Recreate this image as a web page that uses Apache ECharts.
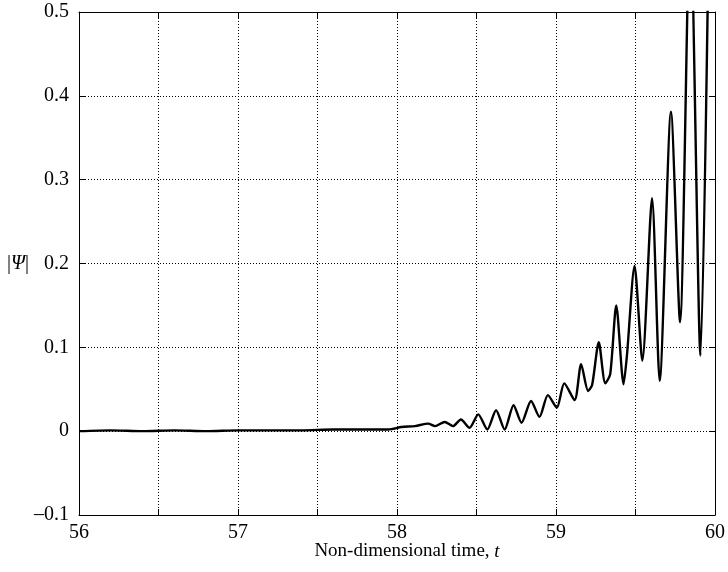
<!DOCTYPE html>
<html>
<head>
<meta charset="utf-8">
<script src="https://cdn.jsdelivr.net/npm/echarts@6/dist/echarts.min.js"></script>
<style>
  html, body { margin: 0; padding: 0; background: #fff; }
  #container { width: 728px; height: 572px; }
</style>
</head>
<body>
<div id="container"></div>
<script>
var chart = echarts.init(document.getElementById('container'));
var font = 'Liberation Serif';
var ink = '#000';

// non-dimensional time t
var tValues = [
    56.0, 56.2, 56.4, 56.6, 56.8, 57.0, 57.2, 57.4, 57.6, 57.8, 57.946,
    58.029, 58.113, 58.196, 58.239, 58.300, 58.352, 58.402, 58.456, 58.511, 58.568,
    58.623, 58.677, 58.733, 58.783, 58.843, 58.896, 58.949, 59.005, 59.052, 59.117,
    59.158, 59.202, 59.227, 59.269, 59.310, 59.341, 59.379, 59.425, 59.446, 59.494,
    59.543, 59.604, 59.652, 59.723, 59.780, 59.844, 59.908, 60.0
];
// |Psi|
var psiValues = [
    0.000, 0.001, 0.000, 0.001, 0.000, 0.001, 0.001, 0.001, 0.002, 0.002, 0.002,
    0.005, 0.006, 0.009, 0.006, 0.011, 0.006, 0.014, 0.004, 0.020, 0.002,
    0.025, 0.002, 0.031, 0.010, 0.036, 0.017, 0.043, 0.028, 0.057, 0.037,
    0.080, 0.048, 0.055, 0.106, 0.057, 0.068, 0.150, 0.056, 0.090, 0.197,
    0.084, 0.278, 0.060, 0.381, 0.130, 0.620, 0.090, 1.200
];

var lineData = tValues.map(function (t, i) {
    return [t, psiValues[i]];
});

var gridDots = { show: true, lineStyle: { color: ink, width: 1, type: [1, 2] } };
var tickIn = { show: true, inside: true, length: 6, lineStyle: { color: ink } };
var frame = { show: true, onZero: false, lineStyle: { color: ink, width: 1 } };

var option = {
    backgroundColor: '#fff',
    animation: false,
    grid: {
        left: 79,
        right: 9,
        top: 12,
        bottom: 57,
        containLabel: false
    },
    xAxis: [{
        type: 'value',
        min: 56,
        max: 60,
        interval: 0.5,
        axisLine: frame,
        axisTick: tickIn,
        splitLine: gridDots,
        axisLabel: {
            color: ink,
            fontFamily: font,
            fontSize: 20,
            margin: 8,
            formatter: function (v) {
                return Math.abs(v - Math.round(v)) < 1e-6 ? String(Math.round(v)) : '';
            }
        },
        name: 'Non-dimensional time, {i|t}',
        nameLocation: 'middle',
        nameGap: 27,
        nameMoveOverlap: false,
        nameTextStyle: {
            color: ink,
            fontFamily: font,
            fontSize: 19,
            padding: [0, 0, 0, 20],
            rich: {
                i: { fontFamily: font, fontSize: 19, fontStyle: 'italic', color: ink }
            }
        }
    }, {
        type: 'value',
        position: 'top',
        min: 56,
        max: 60,
        interval: 0.5,
        axisLine: frame,
        axisTick: tickIn,
        axisLabel: { show: false },
        splitLine: { show: false }
    }],
    yAxis: [{
        type: 'value',
        min: -0.1,
        max: 0.5,
        interval: 0.1,
        axisLine: frame,
        axisTick: tickIn,
        splitLine: gridDots,
        axisLabel: {
            color: ink,
            fontFamily: font,
            fontSize: 20,
            margin: 10,
            formatter: function (v) {
                var r = Math.round(v * 10) / 10;
                if (r === 0) return '0';
                if (r < 0) return '\u2013' + (-r).toFixed(1);
                return r.toFixed(1);
            }
        },
        name: '|{i|\u03A8}|',
        nameLocation: 'middle',
        nameRotate: 0,
        nameGap: 50,
        nameMoveOverlap: false,
        nameTextStyle: {
            color: ink,
            fontFamily: font,
            fontSize: 20,
            rich: {
                i: { fontFamily: font, fontSize: 20, fontStyle: 'italic', color: ink }
            }
        }
    }, {
        type: 'value',
        position: 'right',
        min: -0.1,
        max: 0.5,
        interval: 0.1,
        axisLine: frame,
        axisTick: tickIn,
        axisLabel: { show: false },
        splitLine: { show: false }
    }],
    series: [{
        name: 'psi',
        type: 'line',
        xAxisIndex: 0,
        yAxisIndex: 0,
        data: lineData,
        smooth: 0.25,
        symbol: 'none',
        clip: true,
        lineStyle: { color: ink, width: 2.4 }
    }]
};
chart.setOption(option);
</script>
</body>
</html>
